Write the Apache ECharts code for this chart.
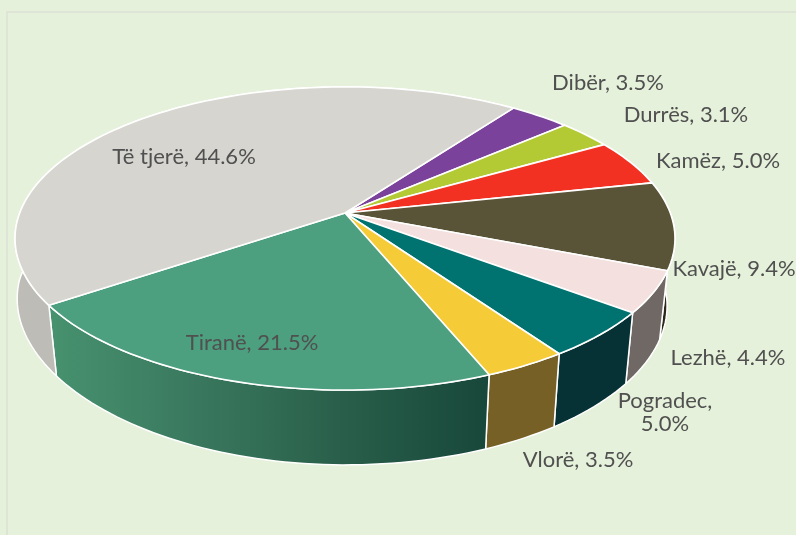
<!DOCTYPE html>
<html>
<head>
<meta charset="utf-8">
<style>html,body{margin:0;padding:0;background:#e5f1da}#chart{width:796px;height:535px}</style>
<script src="https://cdn.jsdelivr.net/npm/echarts@6/dist/echarts.min.js"></script>
</head>
<body>
<div id="chart"></div>
<script>
// Data, clockwise from the slice that starts at the upper right
const categories = ['Dibër','Durrës','Kamëz','Kavajë','Lezhë','Pogradec','Vlorë','Tiranë','Të tjerë'];
const shares = [3.5,3.1,5.0,9.4,4.4,5.0,3.5,21.5,44.6];

// Styling
const topColors = ['#7b429b','#b3ca35','#f23122','#595337','#f4e0de','#007370','#f5cb38','#4c9f7f','#d6d5d0'];
const sideColors = ['#4d2a61','#6f7d21','#96201a','#2c2718','#6f6865','#063236',
  '#776026',
  new echarts.graphic.LinearGradient(0,0,1,0,[
    {offset:0,color:'#47926f'},{offset:0.3,color:'#3b7b60'},
    {offset:0.65,color:'#2a604b'},{offset:1,color:'#17473a'}]),
  '#bdbcb7'];
// Label centres (page pixels), one per category
const labelX = [608,686,718,734,728,665,578,252,184];
const labelY = [83,115,161,269,358,412,460,343,157];
const labelText = categories.map((c,i)=>c+','+(c==='Pogradec'?'\n':' ')+shares[i].toFixed(1)+'%');

// Projection of the tilted disc
const apex = {x:345,y:213}, A = 325.3, B = 147.3, P = 0.168;
const startDeg = 36;
const wall = {narrowLeft:0.045, scaleRight:0.976, sy:1.05, dy:66};
const total = shares.reduce((s,v)=>s+v,0);

let acc = 0;
const spans = shares.map(v=>{const a=acc; acc+=v; return [a/total*360+startDeg,(a+v)/total*360+startDeg];});

function rim(deg){
  const r=deg*Math.PI/180, u=Math.sin(r), v=-Math.cos(r), d=1-P*v;
  return [A*u/d, B*v/d];
}
function arc(a0,a1){
  const n=Math.max(2,Math.ceil((a1-a0)/1.5)), out=[];
  for(let i=0;i<=n;i++) out.push(rim(a0+(a1-a0)*i/n));
  return out;
}
const upperPt = p=>[apex.x+p[0],apex.y+p[1]];
const lowerPt = p=>{
  const v=p[1]/(B+P*p[1]);
  const sx=p[0]>0?wall.scaleRight:1-wall.narrowLeft*Math.max(v,0);
  return [apex.x+p[0]*sx,apex.y+p[1]*wall.sy+wall.dy];
};

const chart = echarts.init(document.getElementById('chart'));
chart.setOption({
  animation:false,
  backgroundColor:'#e5f1da',
  graphic:[
    {type:'polyline',shape:{points:[[7,535],[7,12],[796,12]]},style:{stroke:'#dfe5d6',lineWidth:2,fill:null},silent:true}
  ],
  series:[
    {
      type:'custom',coordinateSystem:'none',silent:true,z:1,
      data:spans,
      renderItem(params,api){
        const i=params.dataIndex, pts=arc(api.value(0),api.value(1));
        return {type:'polygon',shape:{points:pts.map(upperPt).concat(pts.slice().reverse().map(lowerPt))},
          style:{fill:sideColors[i],stroke:'#fff',lineWidth:1.5,lineJoin:'round'}};
      }
    },
    {
      type:'custom',coordinateSystem:'none',silent:true,z:2,
      data:spans,
      renderItem(params,api){
        const i=params.dataIndex, pts=arc(api.value(0),api.value(1));
        return {type:'polygon',shape:{points:[[apex.x,apex.y]].concat(pts.map(upperPt))},
          style:{fill:topColors[i],stroke:'#fff',lineWidth:1.6,lineJoin:'round'}};
      }
    },
    {
      type:'custom',coordinateSystem:'none',silent:true,z:3,
      data:categories.map((c,i)=>[labelX[i],labelY[i]]),
      renderItem(params,api){
        return {type:'text',style:{x:api.value(0),y:api.value(1),text:labelText[params.dataIndex],
          font:'22px Lato',fill:'#505050',align:'center',verticalAlign:'middle',lineHeight:23}};
      }
    }
  ]
});
</script>
</body>
</html>
